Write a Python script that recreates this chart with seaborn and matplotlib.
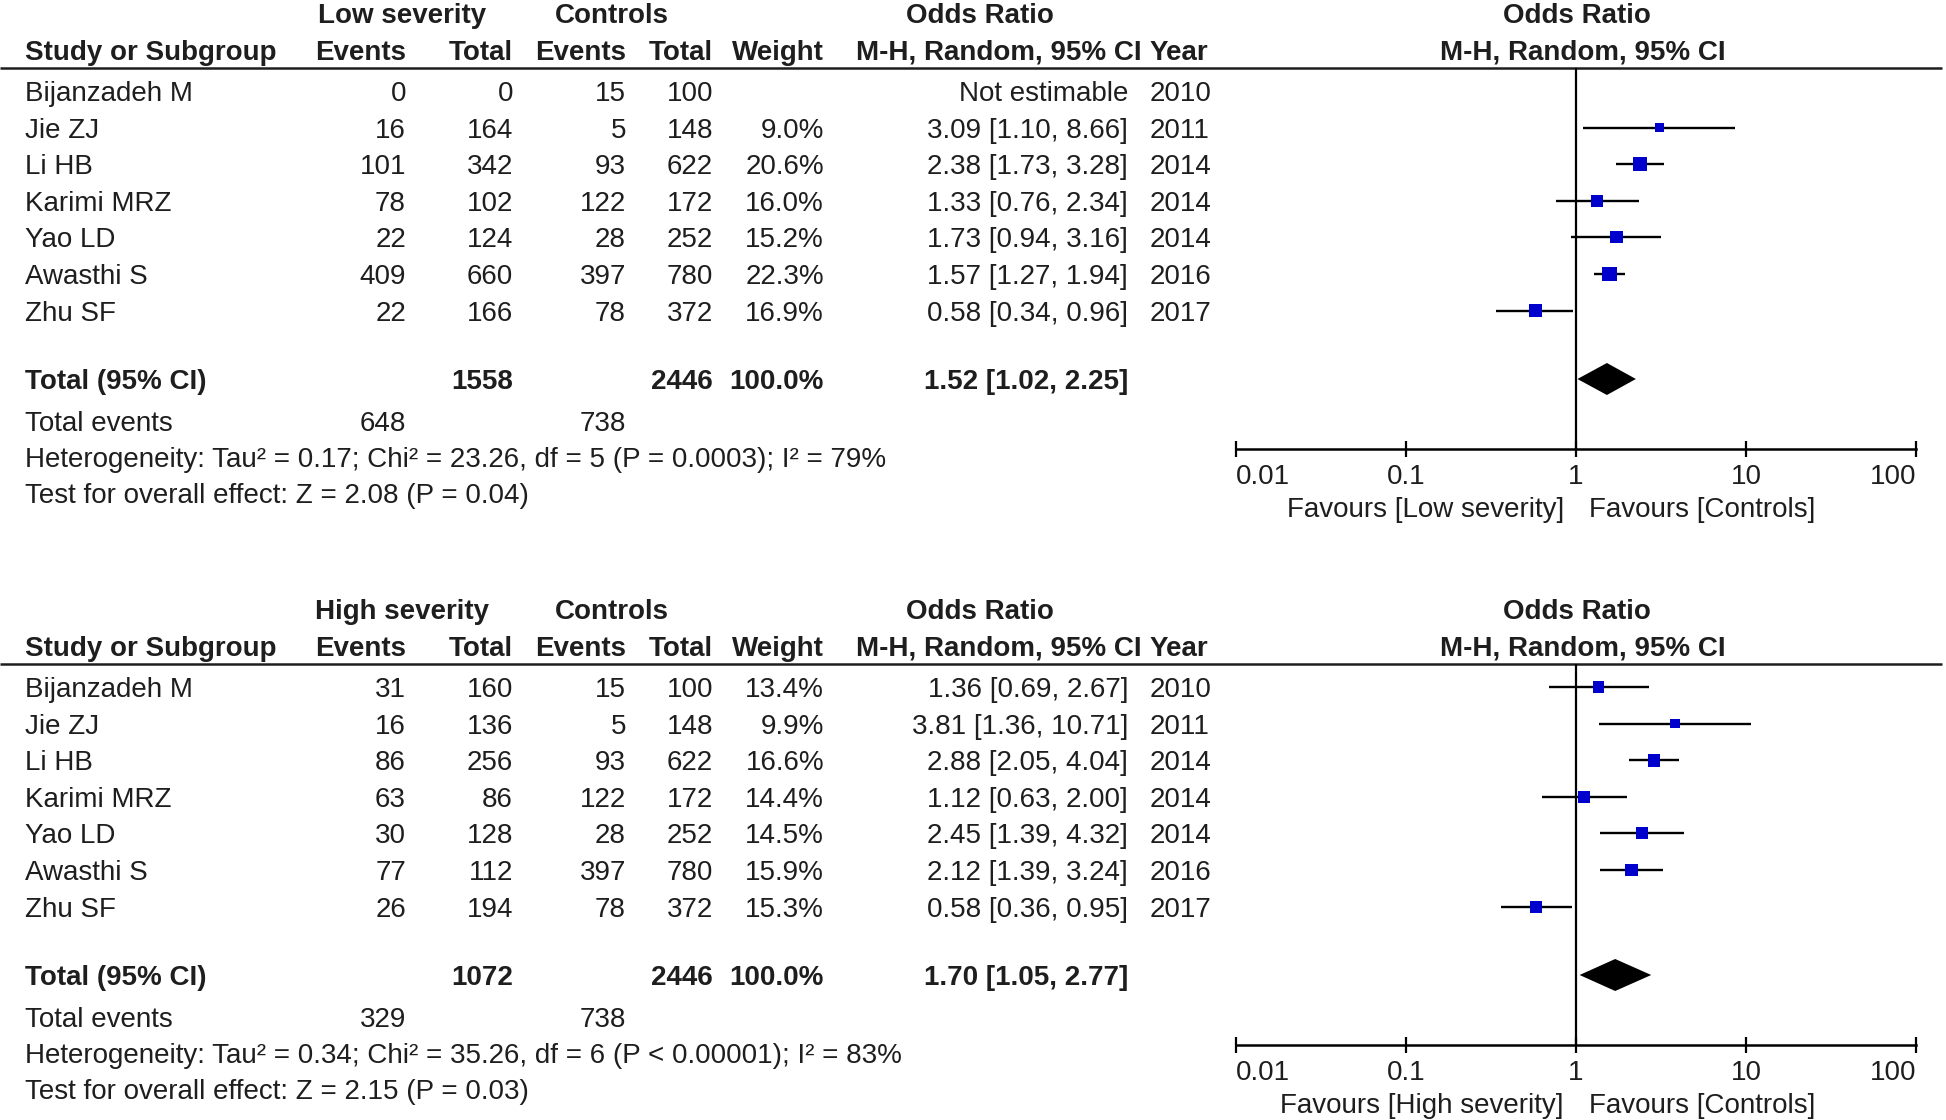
import numpy as np
import pandas as pd
import matplotlib
matplotlib.use("Agg")
import matplotlib.pyplot as plt
import seaborn as sns
from matplotlib.ticker import FixedLocator, FixedFormatter, NullLocator

# ---------------- data ----------------
studies = ["Bijanzadeh M", "Jie ZJ", "Li HB", "Karimi MRZ", "Yao LD", "Awasthi S", "Zhu SF"]
years = [2010, 2011, 2014, 2014, 2014, 2016, 2017]
ctrl_events = [15, 5, 93, 122, 28, 397, 78]
ctrl_total = [100, 148, 622, 172, 252, 780, 372]

low_events = [0, 16, 101, 78, 22, 409, 22]
low_total = [0, 164, 342, 102, 124, 660, 166]
low_weight = [np.nan, 9.0, 20.6, 16.0, 15.2, 22.3, 16.9]
low_or = [np.nan, 3.09, 2.38, 1.33, 1.73, 1.57, 0.58]
low_lo = [np.nan, 1.10, 1.73, 0.76, 0.94, 1.27, 0.34]
low_hi = [np.nan, 8.66, 3.28, 2.34, 3.16, 1.94, 0.96]
low_summary = [1.52, 1.02, 2.25]
low_totals = [1558, 2446]
low_total_events = [648, 738]
low_het = "Heterogeneity: Tau² = 0.17; Chi² = 23.26, df = 5 (P = 0.0003); I² = 79%"
low_test = "Test for overall effect: Z = 2.08 (P = 0.04)"

high_events = [31, 16, 86, 63, 30, 77, 26]
high_total = [160, 136, 256, 86, 128, 112, 194]
high_weight = [13.4, 9.9, 16.6, 14.4, 14.5, 15.9, 15.3]
high_or = [1.36, 3.81, 2.88, 1.12, 2.45, 2.12, 0.58]
high_lo = [0.69, 1.36, 2.05, 0.63, 1.39, 1.39, 0.36]
high_hi = [2.67, 10.71, 4.04, 2.00, 4.32, 3.24, 0.95]
high_summary = [1.70, 1.05, 2.77]
high_totals = [1072, 2446]
high_total_events = [329, 738]
high_het = "Heterogeneity: Tau² = 0.34; Chi² = 35.26, df = 6 (P < 0.00001); I² = 83%"
high_test = "Test for overall effect: Z = 2.15 (P = 0.03)"

tick_values = [0.01, 0.1, 1, 10, 100]
tick_labels = ["0.01", "0.1", "1", "10", "100"]

panels = [
    dict(group="Low severity", events=low_events, total=low_total, weight=low_weight,
         orr=low_or, lo=low_lo, hi=low_hi, summary=low_summary, totals=low_totals,
         tev=low_total_events, het=low_het, test=low_test),
    dict(group="High severity", events=high_events, total=high_total, weight=high_weight,
         orr=high_or, lo=high_lo, hi=high_hi, summary=high_summary, totals=high_totals,
         tev=high_total_events, het=high_het, test=high_test),
]

# ---------------- style ----------------
sns.set_theme(style="white")
plt.rcParams["font.family"] = ["Liberation Sans", "DejaVu Sans"]
TXT = "#1e1e1e"
FS = 20
W, H = 1946, 1120

fig = plt.figure(figsize=(W / 100, H / 100), dpi=100)
tab = fig.add_axes([0, 0, 1, 1])
tab.set_xlim(0, W)
tab.set_ylim(H, 0)
tab.axis("off")

# layout (pixels)
X_STUDY = 25
X_EV, X_TOT, X_CEV, X_CTOT, X_W, X_OR, X_YEAR = 406, 513, 626, 713, 824, 1128, 1150
FX0, FX1 = 1236, 1916
PANEL_OFF = 596
ROW0, ROWH = 91, 36.6
CAP = 10  # half cap height -> baseline offset


def t(x, y, s, ha="left", bold=False, size=FS):
    tab.text(x, y + CAP, s, ha=ha, va="baseline", fontsize=size, color=TXT,
             fontweight="bold" if bold else "normal")


for p_i, p in enumerate(panels):
    off = p_i * PANEL_OFF
    # headers
    yh1, yh2 = 13 + off, 50 + off
    t(402, yh1, p["group"], ha="center", bold=True)
    t(612, yh1, "Controls", ha="center", bold=True)
    t(980, yh1, "Odds Ratio", ha="center", bold=True)
    t(1577, yh1, "Odds Ratio", ha="center", bold=True)
    t(X_STUDY, yh2, "Study or Subgroup", bold=True)
    t(X_EV, yh2, "Events", ha="right", bold=True)
    t(X_TOT, yh2, "Total", ha="right", bold=True)
    t(X_CEV, yh2, "Events", ha="right", bold=True)
    t(X_CTOT, yh2, "Total", ha="right", bold=True)
    t(X_W, yh2, "Weight", ha="right", bold=True)
    t(1142, yh2, "M-H, Random, 95% CI", ha="right", bold=True)
    t(X_YEAR, yh2, "Year", bold=True)
    t(1583, yh2, "M-H, Random, 95% CI", ha="center", bold=True)
    tab.hlines(68 + off, 0, 1942, color=TXT, lw=1.8)

    rows_y = [ROW0 + off + i * ROWH for i in range(len(studies))]
    for i, y in enumerate(rows_y):
        t(X_STUDY, y, studies[i])
        t(X_EV, y, str(p["events"][i]), ha="right")
        t(X_TOT, y, str(p["total"][i]), ha="right")
        t(X_CEV, y, str(ctrl_events[i]), ha="right")
        t(X_CTOT, y, str(ctrl_total[i]), ha="right")
        if not np.isnan(p["weight"][i]):
            t(X_W, y, f"{p['weight'][i]:.1f}%", ha="right")
            t(X_OR, y, f"{p['orr'][i]:.2f} [{p['lo'][i]:.2f}, {p['hi'][i]:.2f}]", ha="right")
        else:
            t(X_OR, y, "Not estimable", ha="right")
        t(X_YEAR, y, str(years[i]))

    y_tot = 379 + off
    t(X_STUDY, y_tot, "Total (95% CI)", bold=True)
    t(X_TOT, y_tot, str(p["totals"][0]), ha="right", bold=True)
    t(X_CTOT, y_tot, str(p["totals"][1]), ha="right", bold=True)
    t(X_W, y_tot, "100.0%", ha="right", bold=True)
    s = p["summary"]
    t(X_OR, y_tot, f"{s[0]:.2f} [{s[1]:.2f}, {s[2]:.2f}]", ha="right", bold=True)
    t(X_STUDY, 421 + off, "Total events")
    t(X_EV, 421 + off, str(p["tev"][0]), ha="right")
    t(X_CEV, 421 + off, str(p["tev"][1]), ha="right")
    t(X_STUDY, 457 + off, p["het"])
    t(X_STUDY, 493 + off, p["test"])
    t(1564, 507 + off, f"Favours [{p['group']}]", ha="right")
    t(1589, 507 + off, "Favours [Controls]", ha="left")

    # forest axes
    top, bot = 68 + off, 449 + off
    ax = fig.add_axes([FX0 / W, 1 - bot / H, (FX1 - FX0) / W, (bot - top) / H])
    ax.set_xscale("log")
    ax.set_xlim(tick_values[0], tick_values[-1])
    ax.set_ylim(bot, top)
    ax.patch.set_alpha(0)
    for sp in ["top", "left", "right"]:
        ax.spines[sp].set_visible(False)
    ax.spines["bottom"].set_color("black")
    ax.spines["bottom"].set_linewidth(1.8)
    ax.xaxis.set_major_locator(FixedLocator(tick_values))
    ax.xaxis.set_major_formatter(FixedFormatter(tick_labels))
    ax.xaxis.set_minor_locator(NullLocator())
    ax.tick_params(axis="x", which="major", direction="inout", length=12, width=1.6,
                   color="black", labelsize=FS, labelcolor=TXT, pad=4.5, bottom=True)
    ax.set_yticks([])
    ax.grid(False)
    ax.axvline(1, color="black", lw=1.6, zorder=1)

    df = pd.DataFrame(dict(y=rows_y, orr=p["orr"], lo=p["lo"], hi=p["hi"], w=p["weight"])).dropna()
    ax.hlines(df["y"], df["lo"], df["hi"], color="black", lw=1.7, zorder=2)
    wmin, wmax = df["w"].min(), df["w"].max()
    k = 5.0
    sns.scatterplot(data=df, x="orr", y="y", size="w", sizes=(k * wmin, k * wmax),
                    size_norm=(wmin, wmax), marker="s", color="#0000CC", linewidth=0,
                    legend=False, ax=ax, zorder=3)
    ax.set_xlabel("")
    ax.set_ylabel("")
    dh = 16
    ax.fill([s[1], s[0], s[2], s[0]], [y_tot, y_tot - dh, y_tot, y_tot + dh],
            color="black", lw=0, zorder=3)
    labels = ax.get_xticklabels()
    labels[0].set_horizontalalignment("left")
    labels[-1].set_horizontalalignment("right")

fig.savefig("out.png", dpi=100)
